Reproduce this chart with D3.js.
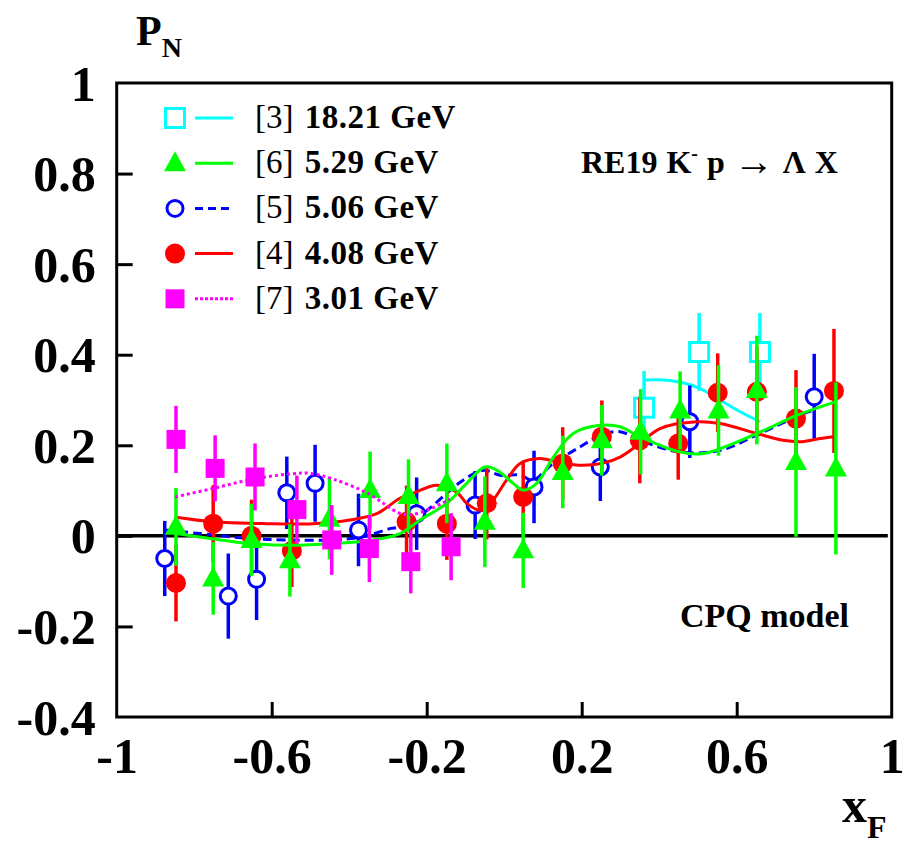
<!DOCTYPE html>
<html>
<head>
<meta charset="utf-8">
<title>P_N vs x_F</title>
<script src="https://cdn.jsdelivr.net/npm/d3@7"></script>
<style>
  body { margin: 0; background: #fff; }
  svg text { font-family: "Liberation Serif", "Times New Roman", serif; font-weight: bold; fill: #000; }
  .axis text { font-size: 50px; }
  .axis path { display: none; }
  .axis line { stroke: #000; stroke-width: 3; }
</style>
</head>
<body>
<svg width="902" height="843"></svg>
<script>
// tick labels
var xTicks = [-1, -0.6, -0.2, 0.2, 0.6, 1];
var yTicks = [-0.4, -0.2, 0, 0.2, 0.4, 0.6, 0.8, 1];

// [3] 18.21 GeV (cyan, open squares)
var s3X = [0.361, 0.503, 0.660];
var s3Y = [0.283, 0.406, 0.406];
var s3E = [0.081, 0.086, 0.086];
var c3X = [0.361, 0.411, 0.471, 0.506, 0.557, 0.609, 0.660];
var c3Y = [0.344, 0.344, 0.336, 0.325, 0.300, 0.274, 0.252];

// [6] 5.29 GeV (green, triangles)
var s6X = [-0.847, -0.751, -0.652, -0.553, -0.451, -0.346, -0.247, -0.148, -0.050, 0.049, 0.151, 0.252, 0.352, 0.454, 0.553, 0.652, 0.753, 0.856];
var s6Y = [0.020, -0.094, -0.009, -0.054, 0.038, 0.101, 0.088, 0.116, 0.031, -0.032, 0.141, 0.211, 0.230, 0.277, 0.277, 0.322, 0.163, 0.149];
var s6E = [0.086, 0.080, 0.080, 0.080, 0.090, 0.085, 0.081, 0.088, 0.100, 0.083, 0.080, 0.078, 0.094, 0.086, 0.100, 0.120, 0.165, 0.190];
var c6X = [-0.847, -0.759, -0.656, -0.544, -0.442, -0.339, -0.269, -0.217, -0.148, -0.097, -0.050, -0.019, 0.023, 0.049, 0.084, 0.127, 0.178, 0.247, 0.299, 0.350, 0.454, 0.514, 0.652, 0.755, 0.854];
var c6Y = [0.005, -0.006, -0.017, -0.021, -0.017, -0.009, 0.005, 0.035, 0.072, 0.116, 0.152, 0.145, 0.116, 0.101, 0.116, 0.174, 0.226, 0.244, 0.241, 0.219, 0.185, 0.182, 0.226, 0.266, 0.296];

// [5] 5.06 GeV (blue, open circles)
var s5X = [-0.876, -0.712, -0.639, -0.561, -0.488, -0.376, -0.226, -0.075, 0.077, 0.248, 0.479, 0.800];
var s5Y = [-0.050, -0.133, -0.096, 0.095, 0.116, 0.013, 0.049, 0.068, 0.108, 0.152, 0.252, 0.307];
var s5E = [0.083, 0.094, 0.090, 0.080, 0.085, 0.080, 0.080, 0.075, 0.080, 0.075, 0.080, 0.095];
var c5X = [-0.875, -0.785, -0.656, -0.561, -0.442, -0.364, -0.295, -0.269, -0.210, -0.148, -0.106, -0.054, -0.011, 0.041, 0.074, 0.126, 0.195, 0.248, 0.299, 0.350, 0.454, 0.557, 0.660, 0.772, 0.800];
var c5Y = [0.013, 0.005, -0.006, -0.009, -0.009, -0.002, 0.016, 0.020, 0.049, 0.094, 0.123, 0.145, 0.134, 0.134, 0.123, 0.160, 0.196, 0.222, 0.230, 0.211, 0.185, 0.189, 0.226, 0.270, 0.278];

// [4] 4.08 GeV (red, full circles)
var s4X = [-0.847, -0.751, -0.652, -0.548, -0.252, -0.148, -0.045, 0.049, 0.151, 0.252, 0.350, 0.449, 0.551, 0.652, 0.753, 0.851];
var s4Y = [-0.104, 0.027, 0.000, -0.033, 0.031, 0.027, 0.072, 0.086, 0.160, 0.219, 0.211, 0.204, 0.316, 0.318, 0.259, 0.320];
var s4E = [0.085, 0.085, 0.080, 0.080, 0.080, 0.080, 0.080, 0.080, 0.080, 0.080, 0.095, 0.080, 0.087, 0.100, 0.107, 0.137];
var c4X = [-0.847, -0.751, -0.613, -0.493, -0.398, -0.329, -0.269, -0.235, -0.174, -0.123, -0.097, -0.062, -0.029, 0.006, 0.041, 0.092, 0.152, 0.203, 0.252, 0.299, 0.350, 0.402, 0.497, 0.557, 0.652, 0.720, 0.768, 0.815, 0.849];
var c4Y = [0.041, 0.031, 0.027, 0.027, 0.035, 0.049, 0.083, 0.094, 0.112, 0.097, 0.072, 0.057, 0.079, 0.123, 0.160, 0.171, 0.160, 0.156, 0.160, 0.174, 0.204, 0.237, 0.252, 0.248, 0.226, 0.211, 0.208, 0.215, 0.219];

// [7] 3.01 GeV (magenta, full squares)
var s7X = [-0.847, -0.746, -0.643, -0.535, -0.445, -0.348, -0.241, -0.137];
var s7Y = [0.213, 0.149, 0.130, 0.058, -0.009, -0.028, -0.057, -0.024];
var s7E = [0.074, 0.073, 0.074, 0.075, 0.077, 0.074, 0.070, 0.074];
var c7X = [-0.849, -0.750, -0.650, -0.550, -0.500, -0.440, -0.350, -0.270, -0.240, -0.190, -0.140];
var c7Y = [0.086, 0.105, 0.125, 0.137, 0.138, 0.125, 0.093, 0.050, 0.047, 0.060, 0.081];

var legendLabels = ["[3]", "[6]", "[5]", "[4]", "[7]"];
var legendEnergies = ["18.21 GeV", "5.29 GeV", "5.06 GeV", "4.08 GeV", "3.01 GeV"];

var svg = d3.select("svg");
var plotL = 116.7, plotR = 891.7, plotT = 83, plotB = 717;

var x = d3.scaleLinear().domain([-1, 1]).range([plotL, plotR]);
var y = d3.scaleLinear().domain([-0.4, 1]).range([plotB, plotT]);

var fmt = function(d) { return String(d); };

// axes
var gx = svg.append("g")
    .attr("class", "axis")
    .attr("transform", "translate(0," + plotB + ")")
    .call(d3.axisBottom(x).tickValues(xTicks).tickFormat(fmt).tickSizeInner(-15).tickSizeOuter(0));
gx.selectAll("text").attr("dy", null).attr("y", 56);
gx.selectAll(".tick line").filter(function(d) { return d === -1 || d === 1; }).remove();

var gy = svg.append("g")
    .attr("class", "axis")
    .attr("transform", "translate(" + plotL + ",0)")
    .call(d3.axisLeft(y).tickValues(yTicks).tickFormat(fmt).tickSizeInner(-16).tickSizeOuter(0).tickPadding(21));
gy.selectAll("text").attr("dy", "0.34em");
gy.selectAll(".tick line").filter(function(d) { return d === -0.4 || d === 1; }).remove();

// frame
svg.append("rect")
    .attr("x", plotL).attr("y", plotT)
    .attr("width", plotR - plotL).attr("height", plotB - plotT)
    .attr("fill", "none").attr("stroke", "#000").attr("stroke-width", 3);

// zero line
svg.append("line")
    .attr("x1", x(-1)).attr("x2", x(0.99))
    .attr("y1", y(0)).attr("y2", y(0))
    .attr("stroke", "#000").attr("stroke-width", 3.5);

var line = d3.line().curve(d3.curveCatmullRom.alpha(0.5));

function drawCurve(cx, cy, color, dash) {
  svg.append("path")
      .attr("d", line(cx.map(function(v, i) { return [x(v), y(cy[i])]; })))
      .attr("fill", "none")
      .attr("stroke", color)
      .attr("stroke-width", 3)
      .attr("stroke-dasharray", dash);
}

function drawMarker(g, px, py, shape, color) {
  if (shape === "osquare") {
    g.append("rect").attr("x", px - 9.5).attr("y", py - 9.5).attr("width", 19).attr("height", 19)
        .attr("fill", "#fff").attr("stroke", color).attr("stroke-width", 3);
  } else if (shape === "square") {
    g.append("rect").attr("x", px - 9.5).attr("y", py - 9.5).attr("width", 19).attr("height", 19)
        .attr("fill", color);
  } else if (shape === "triangle") {
    g.append("path").attr("d", "M" + px + "," + (py - 12) + "L" + (px + 11) + "," + (py + 8) + "L" + (px - 11) + "," + (py + 8) + "Z")
        .attr("fill", color);
  } else if (shape === "ocircle") {
    g.append("circle").attr("cx", px).attr("cy", py).attr("r", 8)
        .attr("fill", "#fff").attr("stroke", color).attr("stroke-width", 3);
  } else {
    g.append("circle").attr("cx", px).attr("cy", py).attr("r", 10).attr("fill", color);
  }
}

function drawPoints(sx, sy, se, shape, color) {
  var g = svg.append("g");
  sx.forEach(function(v, i) {
    g.append("line")
        .attr("x1", x(v)).attr("x2", x(v))
        .attr("y1", y(sy[i] - se[i])).attr("y2", y(sy[i] + se[i]))
        .attr("stroke", color).attr("stroke-width", 3.5);
  });
  sx.forEach(function(v, i) { drawMarker(g, x(v), y(sy[i]), shape, color); });
}

var cyan = "#00ffff", green = "#00ff00", blue = "#0000ff", red = "#ff0000", magenta = "#ff00ff";

drawCurve(c3X, c3Y, cyan, null);
drawPoints(s3X, s3Y, s3E, "osquare", cyan);
drawCurve(c5X, c5Y, blue, "9,5");
drawPoints(s5X, s5Y, s5E, "ocircle", blue);
drawCurve(c4X, c4Y, red, null);
drawPoints(s4X, s4Y, s4E, "circle", red);
drawCurve(c6X, c6Y, green, null);
drawPoints(s6X, s6Y, s6E, "triangle", green);
drawCurve(c7X, c7Y, magenta, "3,3");
drawPoints(s7X, s7Y, s7E, "square", magenta);

// legend
var legShapes = ["osquare", "triangle", "ocircle", "circle", "square"];
var legColors = [cyan, green, blue, red, magenta];
var legDash = [null, null, "8,5", null, "3,2"];
var leg = svg.append("g");
legendLabels.forEach(function(lab, i) {
  var cy = 118 + i * 45.2;
  drawMarker(leg, 175, cy, legShapes[i], legColors[i]);
  leg.append("line").attr("x1", 195).attr("x2", 233).attr("y1", cy).attr("y2", cy)
      .attr("stroke", legColors[i]).attr("stroke-width", 3).attr("stroke-dasharray", legDash[i]);
  var t = leg.append("text").attr("x", 255).attr("y", cy + 10).style("font-size", "33px");
  t.append("tspan").style("font-weight", "normal").text(lab + " ");
  t.append("tspan").attr("dx", 3).style("letter-spacing", "0.5px").text(legendEnergies[i]);
});

// reaction label
var rt = svg.append("text").attr("x", 581).attr("y", 173).style("font-size", "32px").style("word-spacing", "1px");
rt.append("tspan").text("RE19 K");
rt.append("tspan").attr("dy", -13).style("font-size", "20px").text("-");
rt.append("tspan").attr("dy", 13).text(" p ");
rt.append("tspan").style("font-size", "40px").style("font-weight", "normal").attr("dy", 2).text("\u2192");
rt.append("tspan").attr("dy", -2).text(" \u039B X");

svg.append("text").attr("x", 680).attr("y", 627).style("font-size", "34px").text("CPQ model");

// axis titles
var pt = svg.append("text").attr("x", 136).attr("y", 45).style("font-size", "42px");
pt.append("tspan").text("P");
pt.append("tspan").attr("dy", 12).style("font-size", "28px").text("N");

var xt = svg.append("text").attr("x", 842).attr("y", 822).style("font-size", "50px");
xt.append("tspan").text("x");
xt.append("tspan").attr("dy", 16).style("font-size", "32px").text("F");
</script>
</body>
</html>
